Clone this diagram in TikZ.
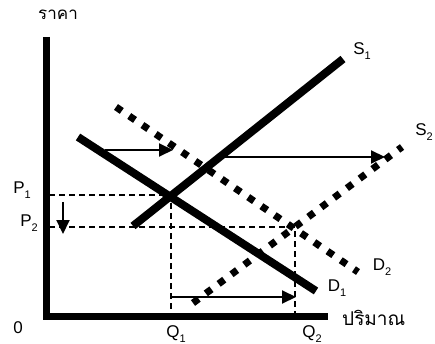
\documentclass[tikz,border=0pt]{standalone}
\usepackage{fontspec}
\setmainfont{Liberation Sans}
\newfontfamily\thaifont[Script=Thai]{Loma}
\usetikzlibrary{arrows.meta}
\definecolor{cink}{HTML}{000000}
\tikzset{
  axis/.style={draw=cink, line width=7pt},
  curve/.style={draw=cink, line width=8pt},
  newcurve/.style={draw=cink, line width=7pt, dash pattern=on 7pt off 9pt},
  guide/.style={draw=cink, line width=1.3pt, dash pattern=on 6pt off 4pt},
  shiftarrow/.style={-{Triangle[length=14pt, width=13pt]}, draw=cink, line width=2pt},
  lbl/.style={font=\fontsize{17}{20}\selectfont, inner sep=0pt, text=cink},
  thai/.style={font=\thaifont\fontsize{19}{22}\selectfont, inner sep=0pt, text=cink},
}
\newcommand{\lsub}[1]{\raisebox{-0.5ex}{\fontsize{11}{11}\selectfont #1}}
\begin{document}
\begin{tikzpicture}[x=1pt, y=-1pt]
  \useasboundingbox (0,0) rectangle (435,344);
  % axes
  \coordinate (ytop) at (46,37);
  \coordinate (xend) at (328,316);
  \draw[axis] (ytop) |- (xend);
  \node[thai, anchor=west, font=\thaifont\fontsize{17}{20}\selectfont] (price) at (38,15) {ราคา};
  \node[thai, anchor=west] (qty) at (342,318) {ปริมาณ};
  \node[lbl] (origin) at (18,328) {0};
  % curves
  \coordinate (s1a) at (133,226);
  \coordinate (s1b) at (343,59);
  \coordinate (d1a) at (78,137);
  \coordinate (d1b) at (316,291);
  \coordinate (d2a) at (116,107);
  \coordinate (d2b) at (358,272);
  \coordinate (s2a) at (193,303);
  \coordinate (s2b) at (402,147);
  \draw[curve] (s1a) -- (s1b);
  \draw[curve] (d1a) -- (d1b);
  \draw[newcurve] (d2a) -- (d2b);
  \draw[newcurve] (s2a) -- (s2b);
  \node[lbl] (S1) at (362,51) {S\lsub{1}};
  \node[lbl] (S2) at (424,132) {S\lsub{2}};
  \node[lbl] (D1) at (337,288) {D\lsub{1}};
  \node[lbl] (D2) at (382,267) {D\lsub{2}};
  % equilibrium guides
  \coordinate (e1) at (171,195);
  \coordinate (e2) at (295,227);
  \coordinate (p1) at (49,195);
  \coordinate (p2) at (49,227);
  \coordinate (q1) at (171,316);
  \coordinate (q2) at (295,316);
  \draw[guide] (p1) -- (e1) -- (q1);
  \draw[guide] (p2) -- (e2) -- (q2);
  \node[lbl] (P1) at (22,190) {P\lsub{1}};
  \node[lbl] (P2) at (29,223) {P\lsub{2}};
  \node[lbl] (Q1) at (176,334) {Q\lsub{1}};
  \node[lbl] (Q2) at (312,334) {Q\lsub{2}};
  % shifts
  \coordinate (dsa) at (105,150);
  \coordinate (dsb) at (173,150);
  \coordinate (ssa) at (222,157);
  \coordinate (ssb) at (385,157);
  \coordinate (qsa) at (171,297);
  \coordinate (qsb) at (296,297);
  \coordinate (psa) at (63,202);
  \coordinate (psb) at (63,234);
  \draw[shiftarrow] (dsa) -- (dsb);
  \draw[shiftarrow] (ssa) -- (ssb);
  \draw[shiftarrow] (qsa) -- (qsb);
  \draw[shiftarrow] (psa) -- (psb);
\end{tikzpicture}
\end{document}
